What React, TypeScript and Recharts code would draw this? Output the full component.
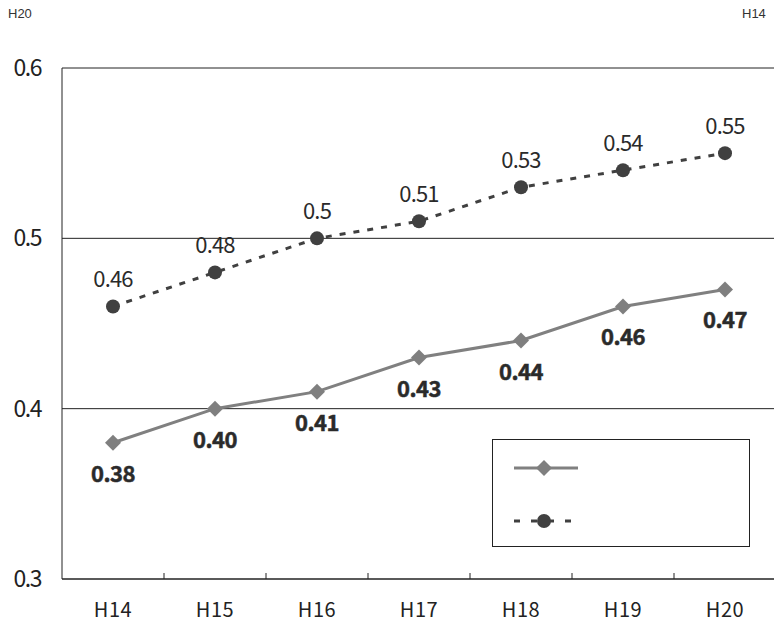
import React from "react";
import { LineChart, Line, XAxis, YAxis, CartesianGrid, LabelList } from "recharts";

const categories = ["H14", "H15", "H16", "H17", "H18", "H19", "H20"];
const seriesA = [0.38, 0.4, 0.41, 0.43, 0.44, 0.46, 0.47];
const seriesALabels = ["0.38", "0.40", "0.41", "0.43", "0.44", "0.46", "0.47"];
const seriesB = [0.46, 0.48, 0.5, 0.51, 0.53, 0.54, 0.55];
const seriesBLabels = ["0.46", "0.48", "0.5", "0.51", "0.53", "0.54", "0.55"];
const yTicks = [0.3, 0.4, 0.5, 0.6];
const yTickLabels = ["0.3", "0.4", "0.5", "0.6"];
const cornerLeft = "H20";
const cornerRight = "H14";

const data = categories.map((c, i) => ({
  cat: c,
  a: seriesA[i],
  b: seriesB[i],
  la: seriesALabels[i],
  lb: seriesBLabels[i],
}));

const FONT = "'Noto Sans CJK JP', 'Noto Sans', sans-serif";
const BAND = 102;

const Diamond = (props: any) => {
  const { cx, cy } = props;
  if (cx == null || cy == null) return null;
  const r = 8;
  return <path d={`M${cx},${cy - r}L${cx + r},${cy}L${cx},${cy + r}L${cx - r},${cy}Z`} fill="#7f7f7f" />;
};
const Dot = (props: any) => {
  const { cx, cy } = props;
  if (cx == null || cy == null) return null;
  return <circle cx={cx} cy={cy} r={7} fill="#404040" />;
};

const XTick = (props: any) => {
  const { x, y, payload, index } = props;
  return (
    <g>
      {index > 0 && <line x1={x - BAND / 2} x2={x - BAND / 2} y1={y - 8} y2={y - 14} stroke="#222" strokeWidth={1} />}
      <text x={x} y={y + 30} textAnchor="middle" fontFamily={FONT} fontSize={20} fill="#222" letterSpacing={0.6}>
        {payload.value}
      </text>
    </g>
  );
};

const labelA = (props: any) => {
  const { x, y, index } = props;
  return (
    <text x={x} y={y + 39} textAnchor="middle" fontFamily={FONT} fontSize={22} fontWeight="bold" fill="#2a2a2a" stroke="#2a2a2a" strokeWidth={0.5} letterSpacing={-0.5}>
      {seriesALabels[index]}
    </text>
  );
};
const labelB = (props: any) => {
  const { x, y, index } = props;
  return (
    <text x={x} y={y - 19} textAnchor="middle" fontFamily={FONT} fontSize={22} fill="#2a2a2a" letterSpacing={-0.8}>
      {seriesBLabels[index]}
    </text>
  );
};

export default function App() {
  return (
    <div style={{ position: "absolute", left: 0, top: 0, width: 774, height: 626, overflow: "hidden", background: "#fff" }}>
      <div style={{ position: "absolute", left: 8, top: 6, fontFamily: "'Liberation Sans', Arial, sans-serif", fontSize: 13, color: "#333" }}>{cornerLeft}</div>
      <div style={{ position: "absolute", left: 742, top: 6, fontFamily: "'Liberation Sans', Arial, sans-serif", fontSize: 13, color: "#333" }}>{cornerRight}</div>
      <div style={{ position: "absolute", left: 0, top: 0 }}>
        <LineChart width={776} height={626} data={data} margin={{ top: 68, right: 0, bottom: 0, left: 0 }}>
          <CartesianGrid horizontal vertical={false} stroke="#222" strokeWidth={1} />
          <XAxis dataKey="cat" height={47} axisLine={{ stroke: "#222" }} tickLine={false} tick={<XTick />} interval={0} padding={{ left: 51, right: 51 }} />
          <YAxis
            width={62}
            domain={[0.3, 0.6]}
            ticks={yTicks}
            axisLine={{ stroke: "#222" }}
            tickLine={false}
            tickMargin={15}
            tickFormatter={(v: number) => yTickLabels[yTicks.indexOf(v)] ?? String(v)}
            tick={{ fontFamily: FONT, fontSize: 23, fill: "#222", letterSpacing: -1.5 } as any}
          />
          <Line dataKey="a" stroke="#808080" strokeWidth={3} dot={<Diamond />} activeDot={false} isAnimationActive={false}>
            <LabelList dataKey="la" content={labelA} />
          </Line>
          <Line dataKey="b" stroke="#404040" strokeWidth={3} strokeDasharray="6 8" dot={<Dot />} activeDot={false} isAnimationActive={false}>
            <LabelList dataKey="lb" content={labelB} />
          </Line>
        </LineChart>
      </div>
      <div style={{ position: "absolute", left: 492, top: 439, width: 258, height: 108, border: "1px solid #222", background: "#fff", boxSizing: "border-box" }}>
        <svg width={256} height={106} style={{ position: "absolute", left: 0, top: 0 }}>
          <line x1={21} x2={85} y1={28} y2={28} stroke="#808080" strokeWidth={3} />
          <path d="M51,20L59,28L51,36L43,28Z" fill="#7f7f7f" />
          <line x1={21} x2={80} y1={81} y2={81} stroke="#404040" strokeWidth={3} strokeDasharray="6 11" />
          <circle cx={51} cy={81} r={7} fill="#404040" />
        </svg>
      </div>
    </div>
  );
}
